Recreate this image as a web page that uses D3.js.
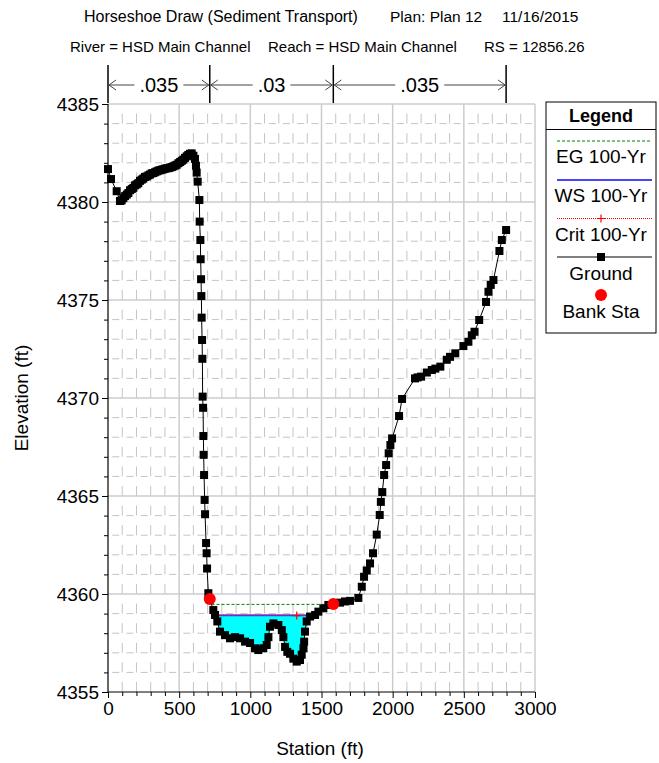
<!DOCTYPE html>
<html>
<head>
<meta charset="utf-8">
<script src="https://cdn.jsdelivr.net/npm/d3@7"></script>
<style>
  body { margin: 0; background: #fff; }
  text { font-family: 'Liberation Sans', Arial, sans-serif; }
</style>
</head>
<body>
<div id="chart"></div>
<script>
// ground points [station, elevation]
const ground = [
  [0, 4381.68], [21, 4381.17], [61, 4380.55], [84, 4380.05], [96, 4380.08],
  [108, 4380.2], [120, 4380.3], [132, 4380.38], [143, 4380.46], [155, 4380.6],
  [167, 4380.66], [178, 4380.72], [190, 4380.85], [202, 4380.9], [213, 4380.96],
  [225, 4381.08], [237, 4381.14], [248, 4381.2], [260, 4381.28], [272, 4381.3],
  [284, 4381.36], [295, 4381.4], [307, 4381.46], [319, 4381.48], [331, 4381.52],
  [342, 4381.56], [354, 4381.6], [366, 4381.62], [378, 4381.65], [389, 4381.67],
  [401, 4381.7], [413, 4381.72], [425, 4381.73], [436, 4381.76], [448, 4381.78],
  [460, 4381.82], [472, 4381.86], [483, 4381.9], [495, 4381.98], [507, 4382.04],
  [518, 4382.1], [529, 4382.16], [541, 4382.25], [553, 4382.33], [564, 4382.4],
  [576, 4382.46], [588, 4382.48], [600, 4382.36], [611, 4382.2], [618, 4381.85],
  [623, 4381.5], [630, 4381.04], [642, 4380.1], [644, 4379.0], [649, 4378.06],
  [651, 4377.08], [654, 4376.06], [656, 4375.2], [658, 4374.1], [661, 4372.96],
  [663, 4372.0], [665, 4370.07], [668, 4369.5], [670, 4368.06], [672, 4367.1],
  [675, 4366.07], [679, 4364.8], [682, 4364.07], [689, 4362.6], [693, 4362.08],
  [696, 4361.3], [705, 4360.04], [715, 4359.74], [740, 4359.18], [752, 4358.93],
  [768, 4358.6], [787, 4358.08], [822, 4357.9], [857, 4357.74], [893, 4357.8],
  [928, 4357.74], [963, 4357.57], [998, 4357.5], [1033, 4357.23], [1056, 4357.14],
  [1091, 4357.23], [1115, 4357.4], [1127, 4357.8], [1138, 4358.33], [1162, 4358.5],
  [1197, 4358.42], [1221, 4358.16], [1232, 4357.8], [1244, 4357.3], [1260, 4357.05],
  [1279, 4356.95], [1302, 4356.7], [1326, 4356.55], [1349, 4356.63], [1361, 4356.9],
  [1373, 4357.23], [1378, 4357.57], [1384, 4358.08], [1396, 4358.6], [1420, 4358.85],
  [1455, 4358.93], [1478, 4359.1], [1513, 4359.27], [1548, 4359.44], [1583, 4359.49],
  [1630, 4359.56], [1665, 4359.62], [1700, 4359.65], [1759, 4359.8], [1783, 4360.37],
  [1799, 4360.88], [1818, 4361.2], [1841, 4361.56], [1862, 4362.08], [1888, 4363.03],
  [1909, 4364.03], [1917, 4364.7], [1927, 4365.2], [1940, 4366.07], [1954, 4366.58],
  [1972, 4367.18], [1984, 4367.6], [1996, 4367.94], [2045, 4369.08], [2066, 4369.95],
  [2157, 4371.0], [2175, 4371.05], [2200, 4371.09], [2240, 4371.3], [2275, 4371.43],
  [2300, 4371.5], [2335, 4371.6], [2380, 4371.95], [2403, 4372.1], [2440, 4372.28],
  [2497, 4372.65], [2532, 4372.87], [2556, 4373.2], [2575, 4373.38], [2608, 4373.98],
  [2656, 4374.9], [2673, 4375.42], [2689, 4375.77], [2708, 4376.02], [2750, 4377.5],
  [2767, 4378.06], [2797, 4378.57]
];
const bankStations = [715, 1583];
const egElev = 4359.47;
const wsElev = 4358.92;
const critElev = 4358.90;
const critMarkStations = [1326];
const nStations = [0, 715, 1583, 2797];
const nValues = [".035", ".03", ".035"];
const xTicks = [0, 500, 1000, 1500, 2000, 2500, 3000];
const yTicks = [4355, 4360, 4365, 4370, 4375, 4380, 4385];
const legendItems = ["EG 100-Yr", "WS 100-Yr", "Crit 100-Yr", "Ground", "Bank Sta"];

const W = 659, H = 763;
const svg = d3.select("#chart").append("svg").attr("width", W).attr("height", H);

const x = d3.scaleLinear().domain([0, 3000]).range([108, 535]);
const y = d3.scaleLinear().domain([4355, 4385]).range([692, 104]);

// header
const hdr = svg.append("g").attr("fill", "#000");
hdr.append("text").attr("x", 84).attr("y", 22).style("font-size", "16px").text("Horseshoe Draw (Sediment Transport)");
hdr.append("text").attr("x", 390).attr("y", 22).style("font-size", "15.5px").text("Plan: Plan 12");
hdr.append("text").attr("x", 502).attr("y", 22).style("font-size", "15.5px").text("11/16/2015");
hdr.append("text").attr("x", 70).attr("y", 52).style("font-size", "15px").text("River = HSD Main Channel");
hdr.append("text").attr("x", 268).attr("y", 52).style("font-size", "15px").text("Reach = HSD Main Channel");
hdr.append("text").attr("x", 484).attr("y", 52).style("font-size", "15px").text("RS = 12856.26");

// grid
const grid = svg.append("g");
d3.range(100, 3000, 100).filter(d => d % 500 !== 0).forEach(d => {
  grid.append("line").attr("x1", x(d)).attr("x2", x(d)).attr("y1", y(4385)).attr("y2", y(4355))
    .attr("stroke", "#c4c4c4").attr("stroke-dasharray", "10,9.6").attr("stroke-dashoffset", 10);
});
d3.range(4356, 4385, 1).filter(d => d % 5 !== 0).forEach(d => {
  grid.append("line").attr("x1", x(0)).attr("x2", x(3000)).attr("y1", y(d)).attr("y2", y(d))
    .attr("stroke", "#c4c4c4").attr("stroke-dasharray", "7,7.23").attr("stroke-dashoffset", 10);
});
xTicks.slice(1).forEach(d => {
  grid.append("line").attr("x1", x(d)).attr("x2", x(d)).attr("y1", y(4385)).attr("y2", y(4355))
    .attr("stroke", "#cccccc").attr("stroke-width", 1.5);
});
yTicks.slice(1).forEach(d => {
  grid.append("line").attr("x1", x(0)).attr("x2", x(3000)).attr("y1", y(d)).attr("y2", y(d))
    .attr("stroke", "#cccccc").attr("stroke-width", 1.5);
});

// water edges where a level crosses the ground, walking out from the lowest point
function crossings(level) {
  const lo = d3.minIndex(ground, d => d[1]);
  let i = lo, j = lo;
  while (i > 0 && ground[i - 1][1] < level) i--;
  while (j < ground.length - 1 && ground[j + 1][1] < level) j++;
  const a = ground[i - 1], b = ground[i];
  const c = ground[j], e = ground[j + 1];
  const sl = a[0] + (level - a[1]) / (b[1] - a[1]) * (b[0] - a[0]);
  const sr = c[0] + (level - c[1]) / (e[1] - c[1]) * (e[0] - c[0]);
  return { sl, sr, inner: ground.slice(i, j + 1) };
}

// water fill
const ws = crossings(wsElev);
const waterPts = [[ws.sl, wsElev], ...ws.inner, [ws.sr, wsElev]];
svg.append("path").datum(waterPts)
  .attr("d", d3.area().x(d => x(d[0])).y0(d => y(d[1])).y1(y(wsElev)))
  .attr("fill", "#00ffff");

// EG
const eg = crossings(egElev);
svg.append("line").attr("x1", x(eg.sl)).attr("x2", x(eg.sr)).attr("y1", y(egElev)).attr("y2", y(egElev))
  .attr("stroke", "#008000").attr("stroke-dasharray", "3,2");

// WS
svg.append("line").attr("x1", x(ws.sl)).attr("x2", x(ws.sr)).attr("y1", y(wsElev)).attr("y2", y(wsElev))
  .attr("stroke", "#4646ff").attr("stroke-width", 2);

// Crit
const cr = crossings(critElev);
svg.append("line").attr("x1", x(cr.sl)).attr("x2", x(cr.sr)).attr("y1", y(critElev)).attr("y2", y(critElev))
  .attr("stroke", "#ff0000").attr("stroke-dasharray", "1,1");
[cr.sl, ...critMarkStations, cr.sr].forEach(s => {
  svg.append("path")
    .attr("d", `M${x(s) - 4},${y(critElev)}h8M${x(s)},${y(critElev) - 4}v8`)
    .attr("stroke", "#ff0000").attr("stroke-width", 1.2);
});

// ground
svg.append("path").datum(ground)
  .attr("d", d3.line().x(d => x(d[0])).y(d => y(d[1])))
  .attr("fill", "none").attr("stroke", "#000").attr("stroke-width", 1);
svg.append("g").selectAll("rect").data(ground).join("rect")
  .attr("x", d => x(d[0]) - 4).attr("y", d => y(d[1]) - 4)
  .attr("width", 8).attr("height", 8).attr("fill", "#000");

// bank stations
svg.append("g").selectAll("circle").data(bankStations).join("circle")
  .attr("cx", d => x(d))
  .attr("cy", d => {
    const g = ground.find(p => p[0] === d);
    return y(g[1]);
  })
  .attr("r", 6).attr("fill", "#ff0000");

// axes
const yAxis = svg.append("g").attr("transform", `translate(${x(0)},0)`)
  .call(d3.axisLeft(y).tickValues(yTicks).tickSize(6).tickPadding(3).tickFormat(d3.format("d")));
svg.append("g").attr("transform", `translate(${x(0)},0)`)
  .call(d3.axisLeft(y).tickValues(d3.range(4356, 4385).filter(d => d % 5 !== 0)).tickSize(4).tickFormat(""))
  .call(g => g.select(".domain").remove());
const xAxis = svg.append("g").attr("transform", `translate(0,${y(4355)})`)
  .call(d3.axisBottom(x).tickValues(xTicks).tickSize(6).tickPadding(4).tickFormat(d3.format("d")));
svg.append("g").attr("transform", `translate(0,${y(4355)})`)
  .call(d3.axisBottom(x).tickValues(d3.range(100, 3000, 100).filter(d => d % 500 !== 0)).tickSize(4).tickFormat(""))
  .call(g => g.select(".domain").remove());
svg.selectAll(".domain").attr("stroke", "#000").attr("stroke-width", 1.2);
svg.selectAll(".tick line").attr("stroke", "#000");
svg.selectAll(".tick text").style("font-size", "19px").style("font-family", "'Liberation Sans', Arial, sans-serif").attr("fill", "#000");
xAxis.selectAll(".domain").attr("d", `M${x(0)},0H${x(3000)}`);
yAxis.selectAll(".domain").attr("d", `M0,${y(4385)}V${y(4355)}`);

svg.append("text").attr("x", 320).attr("y", 755).attr("text-anchor", "middle")
  .style("font-size", "19px").text("Station (ft)");
svg.append("text").attr("transform", `translate(28,${y(4370)}) rotate(-90)`).attr("text-anchor", "middle")
  .style("font-size", "19px").text("Elevation (ft)");

// Manning's n bar
const nb = svg.append("g");
const nY = 85;
nStations.forEach(s => {
  nb.append("line").attr("x1", x(s)).attr("x2", x(s)).attr("y1", 65).attr("y2", 103)
    .attr("stroke", "#000").attr("stroke-width", 1.5);
});
nValues.forEach((v, k) => {
  const a = x(nStations[k]), b = x(nStations[k + 1]), m = (a + b) / 2;
  const t = nb.append("text").attr("x", m).attr("y", nY + 7).attr("text-anchor", "middle")
    .style("font-size", "20px").text(v);
  const tw = t.node().getComputedTextLength() / 2 + 5;
  nb.append("line").attr("x1", a + 1).attr("x2", m - tw).attr("y1", nY).attr("y2", nY).attr("stroke", "#444");
  nb.append("line").attr("x1", m + tw).attr("x2", b - 1).attr("y1", nY).attr("y2", nY).attr("stroke", "#444");
  nb.append("path").attr("d", `M${a + 8},${nY - 5}L${a + 1},${nY}L${a + 8},${nY + 5}`).attr("fill", "none").attr("stroke", "#444");
  nb.append("path").attr("d", `M${b - 8},${nY - 5}L${b - 1},${nY}L${b - 8},${nY + 5}`).attr("fill", "none").attr("stroke", "#444");
});

// legend
const lg = svg.append("g");
const lx0 = 546, lx1 = 656, lcx = (lx0 + lx1) / 2;
lg.append("rect").attr("x", lx0).attr("y", 102).attr("width", lx1 - lx0).attr("height", 231)
  .attr("fill", "#fff").attr("stroke", "#000");
lg.append("line").attr("x1", lx0).attr("x2", lx1).attr("y1", 129.5).attr("y2", 129.5).attr("stroke", "#000");
lg.append("text").attr("x", lcx).attr("y", 122).attr("text-anchor", "middle")
  .style("font-size", "18px").style("font-weight", "bold").text("Legend");
const labY = [163, 202, 241, 280, 318];
legendItems.forEach((t, k) => {
  lg.append("text").attr("x", lcx).attr("y", labY[k]).attr("text-anchor", "middle")
    .style("font-size", "19px").text(t);
});
lg.append("line").attr("x1", 557).attr("x2", 652).attr("y1", 141).attr("y2", 141)
  .attr("stroke", "#008000").attr("stroke-dasharray", "3,2");
lg.append("line").attr("x1", 557).attr("x2", 652).attr("y1", 180).attr("y2", 180)
  .attr("stroke", "#4646ff").attr("stroke-width", 2);
lg.append("line").attr("x1", 557).attr("x2", 652).attr("y1", 218.5).attr("y2", 218.5)
  .attr("stroke", "#ff0000").attr("stroke-dasharray", "1,1");
lg.append("path").attr("d", `M${lcx},214.5v8M${lcx - 4},218.5h8`).attr("stroke", "#ff0000").attr("stroke-width", 1.2);
lg.append("line").attr("x1", 557).attr("x2", 652).attr("y1", 257).attr("y2", 257).attr("stroke", "#000");
lg.append("rect").attr("x", lcx - 4).attr("y", 253).attr("width", 8).attr("height", 8).attr("fill", "#000");
lg.append("circle").attr("cx", lcx).attr("cy", 295).attr("r", 6).attr("fill", "#ff0000");
</script>
</body>
</html>
